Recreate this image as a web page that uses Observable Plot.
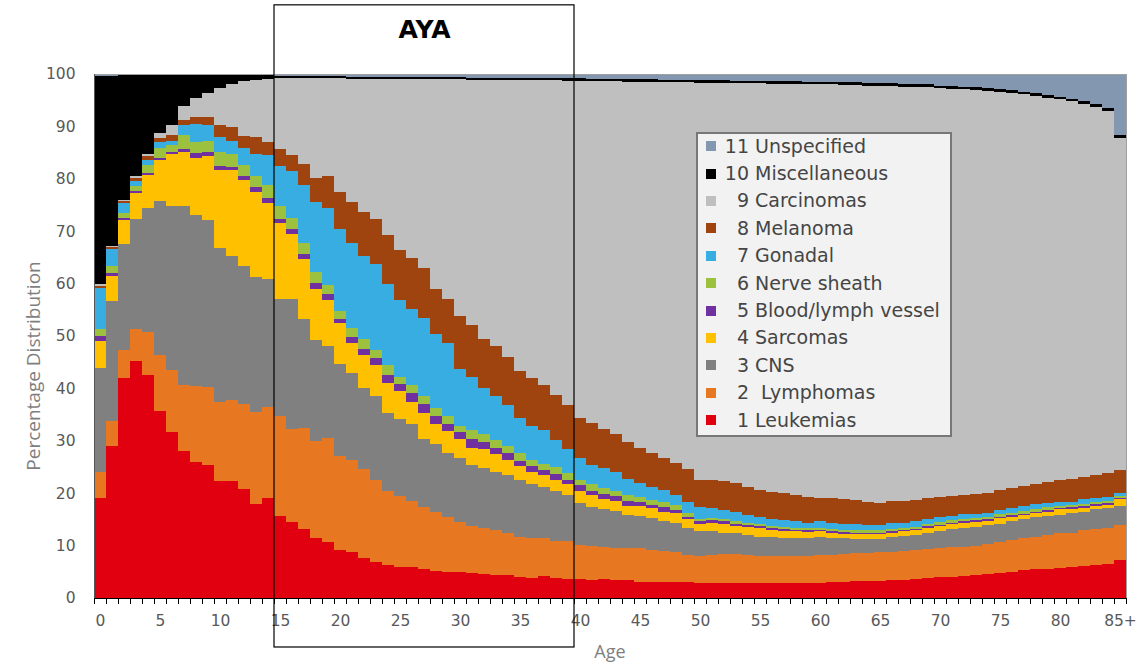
<!DOCTYPE html>
<html><head><meta charset="utf-8">
<script src="https://cdn.jsdelivr.net/npm/d3@7"></script>
<script src="https://cdn.jsdelivr.net/npm/@observablehq/plot@0.6"></script>
<style>
body{margin:0;background:#fff;}
#wrap{position:relative;width:1148px;height:662px;overflow:hidden;}
#legend{position:absolute;left:696px;top:132px;width:256px;height:305px;box-sizing:border-box;background:#f2f2f2;border:2px solid #777;font-family:"DejaVu Sans";font-size:19px;color:#454545;}
#legend .row{position:absolute;left:0;height:27.4px;width:100%;}
#legend .sw{position:absolute;left:8px;top:8.7px;width:10px;height:10px;}
#legend .num{position:absolute;right:201px;top:0;line-height:27.4px;white-space:pre;}
#legend .name{position:absolute;left:57px;top:0;line-height:27.4px;white-space:pre;}
.ylab{position:absolute;left:33px;top:366px;transform:translate(-50%,-50%) rotate(-90deg);font-family:"Open Sans";font-size:19px;color:#7f7f7f;white-space:nowrap;}
.xlab{position:absolute;left:610px;top:641px;line-height:20px;transform:translateX(-50%);font-family:"Open Sans";font-size:18px;color:#7f7f7f;}
</style></head>
<body><div id="wrap"></div>
<script>
const ages = d3.range(0, 86).map(a => a === 85 ? "85+" : String(a));
const seriesNames = ["1 Leukemias","2  Lymphomas","3 CNS","4 Sarcomas","5 Blood/lymph vessel","6 Nerve sheath","7 Gonadal","8 Melanoma","9 Carcinomas","10 Miscellaneous","11 Unspecified"];
const seriesColors = ["#e1000f","#e87722","#808080","#ffc000","#7030a0","#9bc13f","#38ade2","#a0440f","#bfbfbf","#000000","#8497b0"];

const leukemias = [19.0,29.0,41.9,45.2,42.6,35.7,31.7,28.1,26.0,25.4,22.4,22.4,20.8,18.0,19.1,
15.7,14.5,13.2,11.5,10.6,9.1,8.7,7.7,6.8,6.3,6.0,5.9,5.5,5.2,5.0,
4.9,4.7,4.6,4.4,4.4,4.1,3.9,4.2,3.8,3.7,3.6,3.5,3.6,3.5,3.4,
3.1,3.1,3.1,3.0,3.0,2.9,2.9,2.9,2.9,2.9,2.9,2.9,2.9,2.9,2.9,
2.9,3.0,3.1,3.2,3.2,3.3,3.4,3.5,3.7,3.8,4.0,4.1,4.2,4.3,4.5,
4.8,5.0,5.3,5.5,5.6,5.8,6.0,6.1,6.3,6.5,7.2];
const lymphomas = [5.0,4.8,5.4,6.2,8.1,10.7,11.8,12.6,14.5,14.8,15.1,15.3,16.3,17.5,17.4,
19.1,17.8,19.3,18.4,19.9,18.0,17.7,17.0,15.7,14.2,13.4,12.7,11.8,11.3,10.5,
9.6,9.0,8.8,8.5,8.0,7.6,7.5,7.3,7.1,7.1,6.6,6.5,6.2,6.1,6.1,
6.4,6.1,5.9,5.8,5.2,5.1,5.3,5.5,5.5,5.3,5.1,5.1,5.1,5.1,5.1,
5.3,5.3,5.3,5.3,5.4,5.4,5.4,5.5,5.4,5.5,5.5,5.6,5.6,5.7,5.8,
5.9,6.1,6.1,6.2,6.5,6.6,6.5,6.8,6.9,6.9,6.8];
const cns = [19.8,22.8,20.2,21.0,23.7,29.4,31.3,34.2,32.5,32.0,29.2,27.6,26.2,25.8,24.4,
22.3,24.8,20.8,19.4,17.6,17.6,16.6,15.4,16.0,14.9,14.8,14.7,13.0,12.9,12.2,
12.2,11.7,11.4,11.2,11.1,10.8,10.3,9.7,9.6,8.8,7.9,7.3,7.2,7.0,6.4,
6.1,6.0,5.6,5.5,5.1,4.7,4.5,4.1,4.1,3.8,3.7,3.6,3.4,3.4,3.4,
3.4,3.2,3.0,2.8,2.6,2.6,2.8,2.9,3.0,3.2,3.3,3.4,3.5,3.6,3.7,
3.4,3.5,3.6,3.7,3.5,3.5,3.7,3.6,3.8,3.8,3.6];
const sarcomas = [5.2,4.9,4.7,4.8,6.4,7.7,9.9,10.3,10.9,12.1,15.0,16.3,16.5,16.1,14.5,
14.5,12.4,11.3,9.7,8.7,7.7,5.7,6.2,5.9,5.7,5.3,4.2,5.1,3.9,4.1,
3.6,3.3,3.6,3.4,2.9,2.6,2.4,2.3,2.0,2.1,2.4,2.3,1.9,2.0,1.7,
2.0,1.9,1.9,1.9,1.7,1.4,1.6,1.6,1.2,1.6,1.6,1.4,1.4,1.3,1.2,
1.1,1.0,0.9,0.9,1.0,0.9,0.9,0.8,0.8,0.9,0.9,1.0,1.0,0.9,0.7,
1.1,0.9,0.8,0.8,0.9,1.0,0.8,0.7,0.6,0.6,1.2];
const bloodVessel = [1.0,0.6,0.4,0.5,0.4,0.4,0.4,0.5,1.0,0.8,0.8,0.7,0.8,1.0,1.0,
0.8,1.0,1.0,1.1,1.3,0.8,1.1,1.3,1.4,1.4,1.4,1.6,1.6,1.5,1.5,
1.3,1.6,1.4,1.2,1.3,1.0,1.1,1.0,1.2,0.9,1.0,0.9,1.0,0.8,0.9,
0.7,0.7,0.8,0.6,0.5,0.5,0.5,0.5,0.4,0.3,0.4,0.3,0.3,0.3,0.3,
0.3,0.3,0.3,0.3,0.3,0.3,0.3,0.3,0.3,0.3,0.3,0.3,0.3,0.3,0.3,
0.3,0.3,0.3,0.3,0.3,0.3,0.3,0.3,0.3,0.3,0.3];
const nerveSheath = [1.3,1.3,0.9,0.9,1.5,2.0,1.4,2.6,2.2,2.2,2.7,2.5,2.1,2.2,2.5,
2.4,2.0,2.1,2.1,1.7,1.6,1.7,1.8,1.6,1.9,1.3,1.5,1.6,1.4,1.5,
1.3,1.7,1.5,1.5,1.3,1.6,1.2,1.1,1.3,1.2,1.1,1.2,1.0,1.1,1.1,
1.0,0.9,1.1,0.9,0.7,0.5,0.4,0.4,0.5,0.5,0.4,0.4,0.5,0.4,0.4,
0.4,0.4,0.4,0.4,0.4,0.4,0.4,0.4,0.4,0.4,0.5,0.4,0.5,0.4,0.5,
0.5,0.5,0.5,0.5,0.5,0.4,0.4,0.5,0.5,0.5,0.4];
const gonadal = [7.9,3.2,1.9,1.0,0.8,1.1,0.8,2.0,3.3,2.9,2.7,2.5,3.2,4.1,5.6,
7.7,9.0,11.2,13.3,14.6,15.7,16.2,15.8,16.3,15.6,14.7,14.5,14.8,14.2,13.9,
10.8,10.2,8.8,8.3,7.9,6.7,6.5,6.4,5.2,4.7,4.1,3.7,3.9,3.6,3.2,
2.6,2.4,2.3,2.0,2.2,2.2,1.9,1.8,1.9,1.4,1.3,1.3,1.2,1.2,1.1,
1.2,1.2,1.2,1.2,1.0,1.1,1.2,1.0,1.0,0.9,0.9,0.9,0.9,0.8,0.8,
0.8,0.9,1.0,0.9,0.8,0.7,0.7,0.8,0.7,0.6,0.5];
const melanoma = [0.4,0.4,0.4,0.6,0.8,0.7,1.0,1.0,1.3,1.6,2.3,2.6,2.2,3.2,2.6,
3.1,3.1,3.9,4.7,6.2,7.0,7.8,8.5,8.7,9.3,9.5,9.8,9.5,8.6,8.4,
10.1,9.9,9.3,9.6,9.0,9.0,9.0,8.6,8.5,8.4,7.7,8.0,7.4,7.2,6.9,
6.7,6.5,6.1,6.1,6.2,5.3,5.4,5.5,5.4,5.4,5.3,5.3,5.2,5.1,4.9,
4.5,4.6,4.6,4.6,4.5,4.2,4.1,4.1,4.1,4.0,3.9,3.8,3.7,3.9,3.8,
3.8,3.8,3.7,3.9,4.0,4.2,4.4,4.3,4.3,4.6,4.4];
const carcinomas = [0.3,0.2,0.2,0.4,0.4,1.0,1.9,2.5,3.7,4.6,7.1,8.1,10.5,10.9,11.9,
13.6,14.6,16.4,19.0,18.6,21.7,23.6,25.4,26.7,29.8,32.7,34.2,36.1,40.0,41.9,
45.2,46.8,49.5,50.8,53.0,55.4,56.9,58.2,60.1,61.8,64.3,65.2,66.4,67.3,68.8,
69.9,70.9,71.6,72.6,73.8,75.7,75.8,76.0,76.3,77.0,77.5,77.8,78.1,78.4,78.7,
78.9,79.0,79.1,79.2,79.4,79.6,79.2,79.1,78.9,78.5,78.0,77.7,77.4,77.1,76.7,
76.0,75.4,74.8,74.0,73.4,72.7,72.0,71.2,70.3,69.2,63.4];
const miscellaneous = [39.8,32.5,23.8,19.2,15.1,11.1,9.6,6.0,4.5,3.5,2.6,1.9,1.3,1.1,0.9,
0.4,0.4,0.4,0.4,0.4,0.4,0.4,0.4,0.4,0.4,0.4,0.4,0.4,0.4,0.4,
0.4,0.4,0.4,0.4,0.4,0.5,0.5,0.4,0.4,0.5,0.5,0.5,0.5,0.5,0.5,
0.5,0.5,0.5,0.5,0.5,0.5,0.5,0.5,0.5,0.5,0.5,0.5,0.5,0.5,0.5,
0.5,0.5,0.5,0.5,0.5,0.5,0.5,0.5,0.5,0.5,0.5,0.5,0.5,0.5,0.5,
0.5,0.5,0.5,0.5,0.5,0.5,0.5,0.5,0.5,0.5,0.5];
const unspecified = [0.3,0.3,0.2,0.2,0.2,0.2,0.2,0.2,0.1,0.1,0.1,0.1,0.1,0.1,0.1,
0.4,0.4,0.4,0.4,0.4,0.4,0.5,0.5,0.5,0.5,0.5,0.5,0.6,0.6,0.6,
0.6,0.7,0.7,0.7,0.7,0.7,0.7,0.8,0.8,0.8,0.8,0.9,0.9,0.9,1.0,
1.0,1.0,1.1,1.1,1.1,1.2,1.2,1.2,1.3,1.3,1.3,1.4,1.4,1.4,1.5,
1.5,1.5,1.6,1.6,1.7,1.7,1.8,1.9,1.9,2.0,2.2,2.3,2.4,2.5,2.7,
2.9,3.1,3.4,3.7,4.0,4.3,4.7,5.2,5.8,6.5,11.7];

const seriesValues = [leukemias, lymphomas, cns, sarcomas, bloodVessel, nerveSheath, gonadal, melanoma, carcinomas, miscellaneous, unspecified];
const yTicks = [0,10,20,30,40,50,60,70,80,90,100];
const xTickAges = [0,5,10,15,20,25,30,35,40,45,50,55,60,65,70,75,80,85];
const xTickLabels = ["0","5","10","15","20","25","30","35","40","45","50","55","60","65","70","75","80","85+"];
const ayaAges = {start: 15, end: 40, label: "AYA"};

const rows = [];
seriesNames.forEach((s, k) => seriesValues[k].forEach((v, i) => rows.push({age: ages[i], i, series: s, value: v})));

const chart = Plot.plot({
  width: 1148, height: 662,
  marginLeft: 94, marginRight: 22, marginTop: 74, marginBottom: 64,
  x: {domain: [0, 86], label: null},
  y: {domain: [0, 100], label: null},
  color: {domain: seriesNames, range: seriesColors},
  style: {fontFamily: "DejaVu Sans", fontSize: "15.5px", color: "#595959", background: "transparent", overflow: "visible"},
  marks: [
    Plot.rectY(rows, {x1: "i", x2: d => d.i + 1, y: "value", fill: "series", order: seriesNames, clip: true, shapeRendering: "crispEdges"}),
    Plot.frame({stroke: "#a0a0a0"}),
    Plot.axisY({ticks: yTicks, tickSize: 0, tickPadding: 19, fontSize: 15.5, label: null}),
    Plot.axisX({ticks: d3.range(0, 87), tickSize: 6, tickFormat: () => "", stroke: "#000", label: null}),
    Plot.axisX({ticks: xTickAges.map(a => a + 0.5), tickSize: 0, tickPadding: 16, tickFormat: d => xTickLabels[xTickAges.indexOf(d - 0.5)], fontSize: 15.5, label: null}),
    Plot.ruleY([0], {stroke: "#000"}),
    Plot.ruleX([0], {stroke: "#555"}),
    Plot.rect([ayaAges], {x1: d => d.start, x2: d => d.end, y1: -9.35, y2: 113.2, stroke: "#000", strokeWidth: 1.2, fill: "none", clip: false}),
    Plot.text([ayaAges], {x: d => (d.start + d.end) / 2, y: 108.5, text: d => d.label, fontSize: 25, fontWeight: "bold", fill: "#000", fontFamily: "DejaVu Sans", clip: false})
  ]
});

const wrap = document.getElementById("wrap");
wrap.appendChild(chart);

const yl = document.createElement("div"); yl.className = "ylab"; yl.textContent = "Percentage Distribution"; wrap.appendChild(yl);
const xl = document.createElement("div"); xl.className = "xlab"; xl.textContent = "Age"; wrap.appendChild(xl);

const legend = d3.select(wrap).append("div").attr("id", "legend");
const legendOrder = seriesNames.map((s, k) => ({s, c: seriesColors[k]})).reverse();
legendOrder.forEach((d, r) => {
  const m = d.s.match(/^(\d+)(\s+.*)$/);
  const row = legend.append("div").attr("class", "row").style("top", (r * 27.4 - 1.5) + "px");
  row.append("div").attr("class", "sw").style("background", d.c);
  row.append("span").attr("class", "num").text(m[1]);
  row.append("span").attr("class", "name").text(m[2].slice(1));
});
</script></body></html>
